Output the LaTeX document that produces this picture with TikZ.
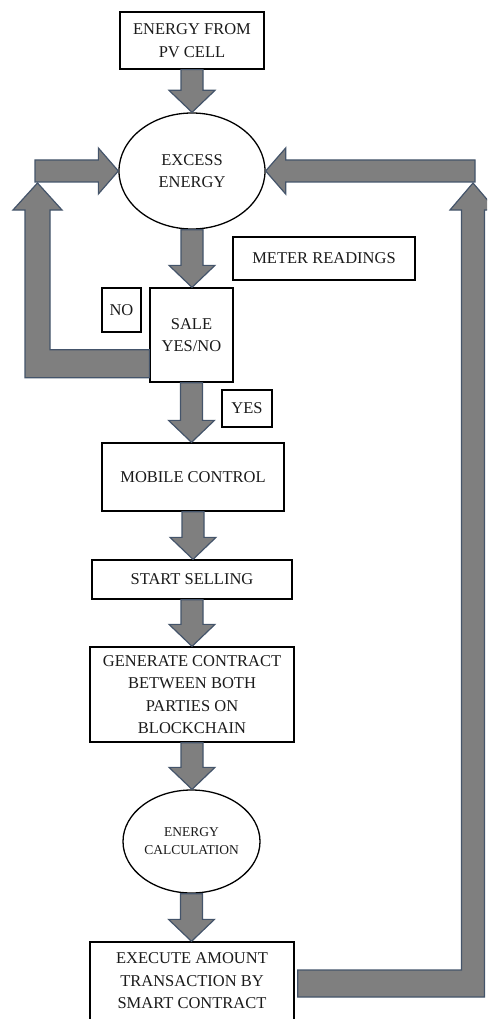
\documentclass[tikz,border=0pt]{standalone}
\usepackage{fontspec}
\setmainfont{Liberation Serif}
\definecolor{fcText}{HTML}{1A1A1A}
\definecolor{fcArrow}{HTML}{7F7F7F}
\definecolor{fcEdge}{HTML}{44546A}
\usetikzlibrary{calc,shapes.geometric}

% thick block arrow pointing down, from one anchor to another
\newcommand{\fatdown}[2]{%
  \path[fatarr] let \p1=#1, \p2=#2 in
    (\x1-11pt,\y1) -- (\x1-11pt,\y2+22pt) -- (\x1-23pt,\y2+22pt) -- (\x1,\y2)
    -- (\x1+23pt,\y2+22pt) -- (\x1+11pt,\y2+22pt) -- (\x1+11pt,\y1) -- cycle;}

\begin{document}
\begin{tikzpicture}[x=1pt, y=-1pt,
  box/.style={draw=black, line width=1.3pt, fill=white, text=fcText,
    align=center, inner sep=2pt, font=\fontsize{16.5}{22.5}\selectfont},
  oval/.style={box, ellipse, inner sep=0pt},
  fatarr/.style={fill=fcArrow, draw=fcEdge, line width=1.2pt, line join=miter}
]
  \clip (0,0) rectangle (487,1019);

  \node[box, minimum width=144, minimum height=57] (pv) at (192,40.5) {ENERGY FROM\\PV CELL};
  \node[oval, minimum width=146, minimum height=116] (excess) at (192,171) {EXCESS\\ENERGY};
  \node[box, minimum width=182, minimum height=43] (meter) at (324,258.5) {METER READINGS};
  \node[box, minimum width=39, minimum height=44] (no) at (121.5,310) {NO};
  \node[box, minimum width=83, minimum height=94] (sale) at (191.5,335) {SALE\\YES/NO};
  \node[box, minimum width=50, minimum height=37] (yes) at (247,408.5) {YES};
  \node[box, minimum width=182, minimum height=68] (mobile) at (193,477) {MOBILE CONTROL};
  \node[box, minimum width=200, minimum height=39] (start) at (192,579.5) {START SELLING};
  \node[box, minimum width=204, minimum height=95] (generate) at (192,694.5)
    {GENERATE CONTRACT\\BETWEEN BOTH\\PARTIES ON\\BLOCKCHAIN};
  \node[oval, minimum width=137, minimum height=103, font=\fontsize{13.5}{18}\selectfont] (calc) at (191.5,841.5)
    {ENERGY\\CALCULATION};
  \node[box, minimum width=204, minimum height=78] (exec) at (192,981)
    {EXECUTE AMOUNT\\TRANSACTION BY\\SMART CONTRACT};

  \fatdown{(pv.south)}{(excess.north)}
  \fatdown{(excess.south)}{(sale.north)}
  \fatdown{(sale.south)}{(mobile.north)}
  \fatdown{(mobile.south)}{(start.north)}
  \fatdown{(start.south)}{(generate.north)}
  \fatdown{(generate.south)}{(calc.north)}
  \fatdown{(calc.south)}{(exec.north)}

  % NO: back up the left side into excess energy
  \coordinate (notip) at (37.5,183);
  \coordinate (noin) at (35,171);
  \path[fatarr] ($(sale.south west)+(0,-5)$) -| ($(notip)+(-12.5,27)$) -- ++(-12,0) -- (notip)
    -- ++(24.5,27) -- ++(-12,0) |- ($(sale.south west)+(0,-33)$) -- cycle;
  \path[fatarr] let \p1=(noin), \p2=(excess.west) in
    (\x1,\y2+11pt) -- (\x2-20pt,\y2+11pt) -- (\x2-20pt,\y2+23pt) -- (\x2,\y2)
    -- (\x2-20pt,\y2-23pt) -- (\x2-20pt,\y2-11pt) -- (\x1,\y2-11pt) -- cycle;

  % after the transaction: up the right side into excess energy
  \coordinate (paytip) at (473,183);
  \coordinate (payin) at (475,171);
  \path[fatarr] ($(exec.east)+(3,-11)$) -| ($(paytip)+(-11.5,27)$) -- ++(-11.5,0) -- (paytip)
    -- ++(23,27) -- ++(-11.5,0) |- ($(exec.east)+(3,16)$) -- cycle;
  \path[fatarr] let \p1=(payin), \p2=(excess.east) in
    (\x1,\y2+11pt) -- (\x2+20pt,\y2+11pt) -- (\x2+20pt,\y2+23pt) -- (\x2,\y2)
    -- (\x2+20pt,\y2-23pt) -- (\x2+20pt,\y2-11pt) -- (\x1,\y2-11pt) -- cycle;
\end{tikzpicture}
\end{document}
